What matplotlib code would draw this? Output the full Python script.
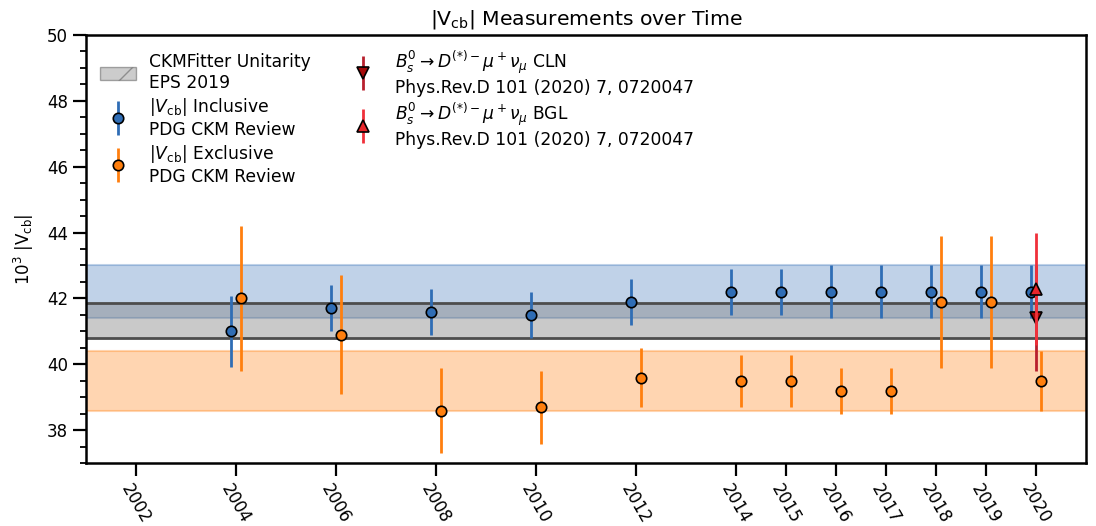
import numpy as np
import matplotlib
matplotlib.use("Agg")
import matplotlib.pyplot as plt
from matplotlib.patches import Patch
from matplotlib.container import ErrorbarContainer
from matplotlib.legend_handler import HandlerErrorbar

plt.rcParams['font.family'] = ['DejaVu Sans']
plt.rcParams['font.size'] = 12

# ---------------- data ----------------
years = [2004, 2006, 2008, 2010, 2012, 2014, 2015, 2016, 2017, 2018, 2019, 2020]
incl_vals = [41.0, 41.7, 41.6, 41.5, 41.9, 42.2, 42.2, 42.2, 42.2, 42.2, 42.2, 42.2]
incl_errs = [1.08, 0.7, 0.7, 0.7, 0.7, 0.7, 0.7, 0.8, 0.8, 0.8, 0.8, 0.8]
excl_vals = [42.0, 40.9, 38.6, 38.7, 39.6, 39.5, 39.5, 39.2, 39.2, 41.9, 41.9, 39.5]
excl_errs = [2.2, 1.8, 1.3, 1.1, 0.9, 0.8, 0.8, 0.7, 0.7, 2.0, 2.0, 0.9]

lhcb_year = 2020
cln_val, cln_err = 41.4, 1.6
bgl_val, bgl_err = 42.3, 1.7

ckm_band = [40.80, 41.86]
incl_band = [41.4, 43.0]
excl_band = [38.6, 40.4]

tick_years = [2002, 2004, 2006, 2008, 2010, 2012, 2014, 2015, 2016, 2017, 2018, 2019, 2020]
offset = 0.1

BLUE = '#2f6db5'
ORANGE = '#ff7f0e'

# ---------------- figure ----------------
fig = plt.figure(figsize=(10.96, 5.26), dpi=100)
ax = fig.add_axes([86 / 1096, 1 - 463.3 / 526, (1085.7 - 86) / 1096, (463.3 - 34.7) / 526])

ax.axhspan(incl_band[0], incl_band[1], facecolor=BLUE, edgecolor=BLUE,
           alpha=0.3, lw=1.5, zorder=1)
ax.axhspan(excl_band[0], excl_band[1], facecolor=ORANGE, edgecolor=ORANGE,
           alpha=0.32, lw=1.5, zorder=1)
ax.axhspan(ckm_band[0], ckm_band[1], facecolor='grey', edgecolor='none', alpha=0.42, zorder=1.5)
for v in ckm_band:
    ax.axhline(v, color='#4d4d4d', lw=2.0, zorder=1.6)

yrs = np.array(years, dtype=float)
e_incl = ax.errorbar(yrs - offset, incl_vals, yerr=incl_errs, fmt='o', color=BLUE,
                     ecolor=BLUE, mec='k', mew=1.2, ms=7.5, elinewidth=2, zorder=3,
                     label='$|V_{\\mathrm{cb}}|$ Inclusive\nPDG CKM Review')
e_excl = ax.errorbar(yrs + offset, excl_vals, yerr=excl_errs, fmt='o', color=ORANGE,
                     ecolor=ORANGE, mec='k', mew=1.2, ms=7.5, elinewidth=2, zorder=3,
                     label='$|V_{\\mathrm{cb}}|$ Exclusive\nPDG CKM Review')
e_cln = ax.errorbar([lhcb_year], [cln_val], yerr=[cln_err], fmt='v', color='#a50a0a',
                    ecolor='#b8202e', mec='k', mew=1.2, ms=9, elinewidth=2, zorder=4,
                    label='$B_s^0 \\rightarrow D^{(*)-}\\mu^+\\nu_\\mu$ CLN\nPhys.Rev.D 101 (2020) 7, 0720047')
e_bgl = ax.errorbar([lhcb_year], [bgl_val], yerr=[bgl_err], fmt='^', color='#e8262b',
                    ecolor='#f0303a', mec='k', mew=1.2, ms=9, elinewidth=2, zorder=5,
                    label='$B_s^0 \\rightarrow D^{(*)-}\\mu^+\\nu_\\mu$ BGL\nPhys.Rev.D 101 (2020) 7, 0720047')

ckm_handle = Patch(facecolor='grey', alpha=0.4, edgecolor='#333333', hatch='/',
                   label='CKMFitter Unitarity\nEPS 2019')

ax.set_xlim(2001, 2021)
ax.set_ylim(37, 50)
ax.set_xticks(tick_years)
ax.set_xticklabels([str(y) for y in tick_years], rotation=-60, ha='center')
ax.set_yticks(np.arange(38, 51, 2))
ax.set_yticks(np.arange(37, 50.01, 0.5), minor=True)
ax.tick_params(axis='both', which='major', length=9.5, width=1.6, labelsize=12)
ax.tick_params(axis='y', which='minor', length=4.5, width=1.3)
for s in ax.spines.values():
    s.set_linewidth(1.8)

ax.set_title('$|\\mathrm{V_{cb}}|$ Measurements over Time', fontsize=14.7, pad=7)
ax.set_ylabel('$10^3$ $|\\mathrm{V_{cb}}|$', fontsize=12, labelpad=8)

handles = [ckm_handle, e_incl, e_excl, e_cln, e_bgl]
labels = [h.get_label() for h in handles]
ax.legend(handles, labels, loc='upper left', ncol=2, frameon=False, fontsize=12.3,
          handlelength=2.1, handleheight=0.82, columnspacing=2.0, labelspacing=0.25,
          borderaxespad=0.4,
          handler_map={ErrorbarContainer: HandlerErrorbar(yerr_size=1.0)})

fig.savefig('out.png', dpi=100)
